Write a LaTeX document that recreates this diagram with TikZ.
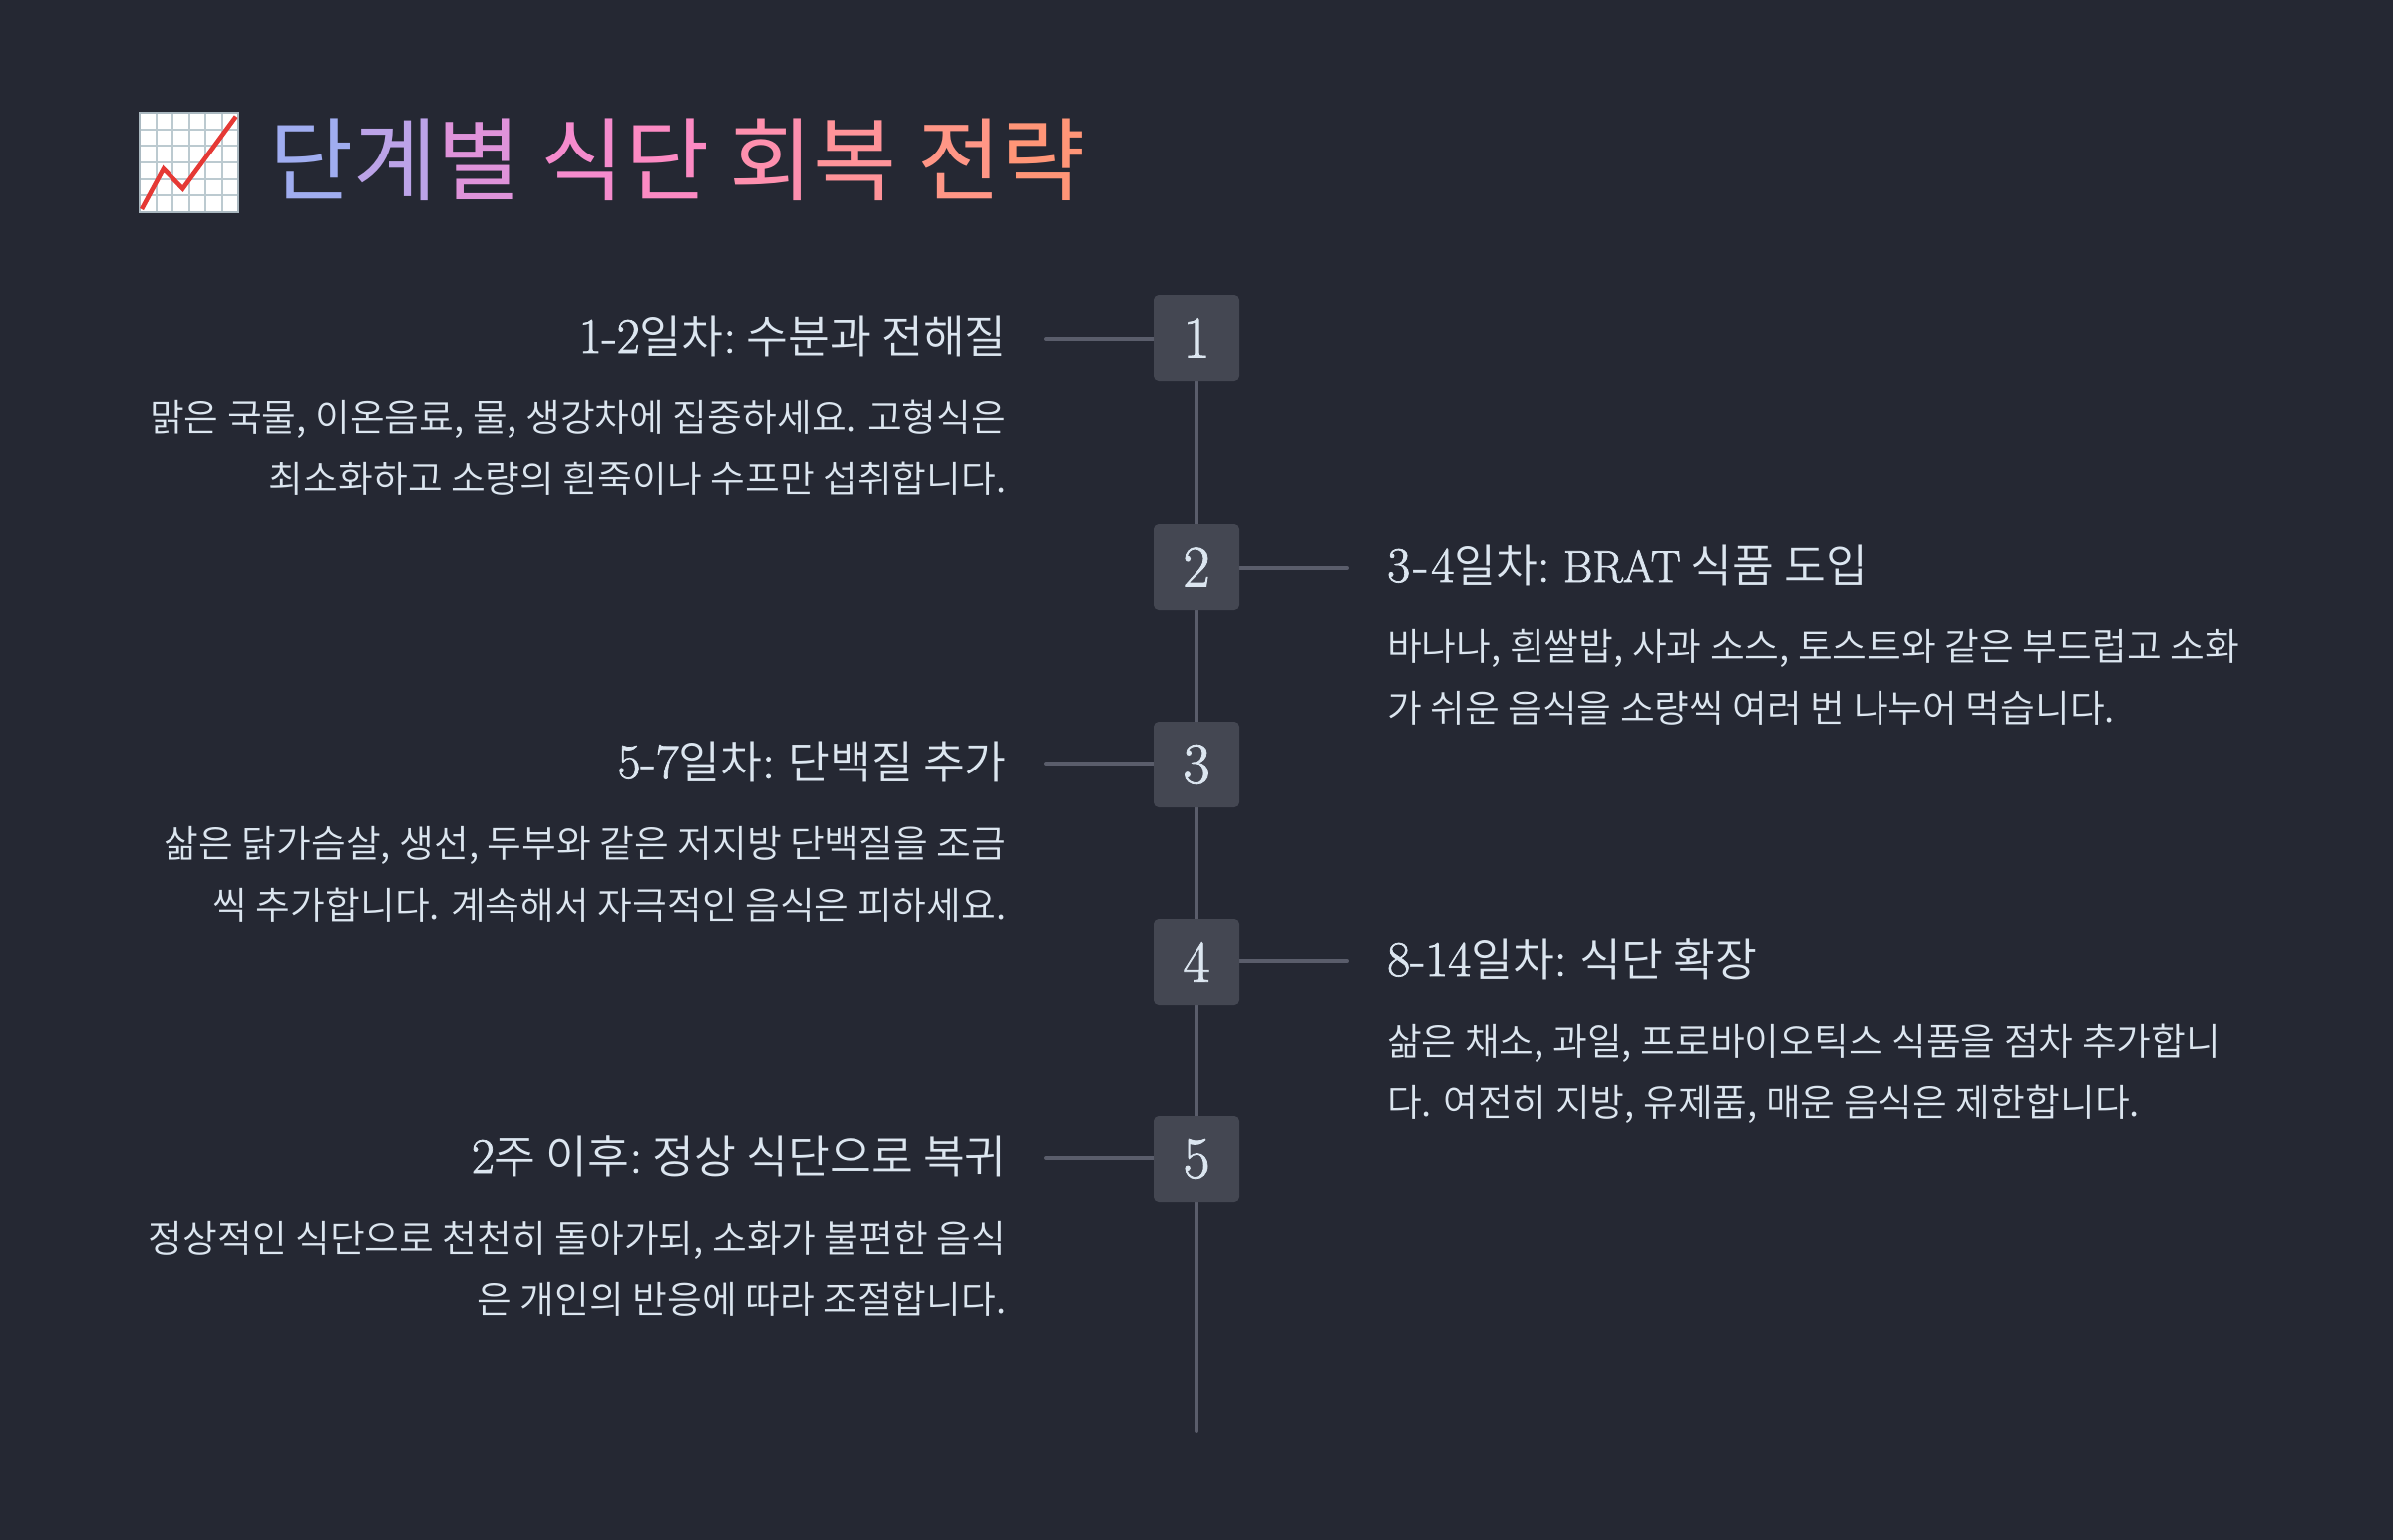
\documentclass[tikz,border=0pt]{standalone}
\usepackage{fontspec}
\newfontfamily\kr{Noto Sans CJK KR DemiLight}
\newfontfamily\krreg{Noto Sans CJK KR}
\definecolor{bgc}{HTML}{252833}
\definecolor{boxc}{HTML}{444752}
\definecolor{linec}{HTML}{5A5D6B}
\definecolor{txt}{HTML}{DCE6F0}
\definecolor{gridc}{HTML}{BCCAD0}
\definecolor{edgec}{HTML}{AAB8C0}
\definecolor{redc}{HTML}{E53935}
\definecolor{tA}{HTML}{A0ADF0}
\definecolor{tB}{HTML}{BCA3E8}
\definecolor{tC}{HTML}{DF93DA}
\definecolor{tD}{HTML}{F58BCD}
\definecolor{tE}{HTML}{FC8AC3}
\definecolor{tF}{HTML}{FE90AE}
\definecolor{tG}{HTML}{FF9399}
\definecolor{tH}{HTML}{FF9686}
\definecolor{tI}{HTML}{FF9577}
\newcommand\thickened[2]{\special{pdf:code q 2 Tr #1 w}#2\special{pdf:code Q}}
\newcommand\lm[1]{\thickened{0.7}{{\rmfamily\fontsize{50}{50}\selectfont #1}}}
\newcommand\lmcaps[1]{\thickened{0.7}{{\rmfamily\fontsize{45}{45}\selectfont #1}}}
\newcommand\boxdigit[1]{\thickened{0.8}{{\rmfamily\fontsize{59}{59}\selectfont #1}}}
\tikzset{
  x=1pt,y=-1pt,
  numbox/.style={rectangle,minimum size=86pt,inner sep=0pt,rounded corners=5pt,fill=boxc,text=txt},
  conn/.style={draw=linec,line width=4pt},
  stub/.style={conn,line cap=round},
  headL/.style={anchor=base east,inner sep=0pt,text=txt,font=\kr\fontsize{45.5}{45.5}\selectfont},
  headR/.style={anchor=base west,inner sep=0pt,text=txt,font=\kr\fontsize{45.5}{45.5}\selectfont},
  bodyL/.style={anchor=base east,inner sep=0pt,text=txt,font=\kr\fontsize{37.8}{37.8}\selectfont},
  bodyR/.style={anchor=base west,inner sep=0pt,text=txt,font=\kr\fontsize{37.8}{37.8}\selectfont},
  titlenode/.style={anchor=base west,inner sep=0pt,font=\krreg\fontsize{91.4}{91.4}\selectfont}
}
\begin{document}
\begin{tikzpicture}
\useasboundingbox (0,0) rectangle (2400,1544);
\fill[bgc] (-5,-5) rectangle (2405,1549);
% chart emoji
\fill[white] (140,113) rectangle (239,213);
\foreach \k in {1,...,5}{
  \draw[gridc,line width=2pt] (140+16.5*\k,113) -- (140+16.5*\k,213);
  \draw[gridc,line width=2pt] (140,113+16.67*\k) -- (239,113+16.67*\k);
}
\draw[edgec,line width=2pt] (140,113) rectangle (239,213);
\draw[redc,line width=4.5pt] (142,210) -- (164,169.5) -- (183.3,189.5) -- (236.7,116.7);
% title
\node[titlenode] (title) at (270,194) {\color{tA}단\color{tB}계\color{tC}별 \color{tD}식\color{tE}단 \color{tF}회\color{tG}복 \color{tH}전\color{tI}략};
% connector ends
\coordinate (s1) at (1049,340);
\coordinate (s2) at (1351,570);
\coordinate (s3) at (1049,766);
\coordinate (s4) at (1351,964);
\coordinate (s5) at (1049,1162);
\coordinate (lineend) at (1200,1436);
% boxes (outline reserved first so connectors can name them)
\path node[numbox,fill=none] (n1) at (1200,339) {}
      node[numbox,fill=none] (n2) at (1200,569) {}
      node[numbox,fill=none] (n3) at (1200,767) {}
      node[numbox,fill=none] (n4) at (1200,965) {}
      node[numbox,fill=none] (n5) at (1200,1163) {};
\draw[conn] (n1) -- (n2);
\draw[conn] (n2) -- (n3);
\draw[conn] (n3) -- (n4);
\draw[conn] (n4) -- (n5);
\draw[stub] (n5) -- (lineend);
\draw[stub] (s1) -- (n1.west |- s1);
\draw[stub] (s2) -- (n2.east |- s2);
\draw[stub] (s3) -- (n3.west |- s3);
\draw[stub] (s4) -- (n4.east |- s4);
\draw[stub] (s5) -- (n5.west |- s5);
\foreach \m in {1,...,5}{\node[numbox] (d\m) at (n\m) {\boxdigit{\m}};}
% item 1
\node[headL] (h1) at (1010,354) {\lm{1-2}일차\lm{:}\hspace{-3pt} 수분과 전해질};
\node[bodyL] (b1a) at (1009.5,432) {맑은 국물, 이온음료, 물, 생강차에 집중하세요. 고형식은};
\node[bodyL] (b1b) at (1009.5,494) {최소화하고 소량의 흰죽이나 수프만 섭취합니다.};
% item 2
\node[headR] (h2) at (1391,584) {\lm{3\kern3pt-\kern3pt4}일차\lm{:} \lmcaps{BRAT} 식품 도입};
\node[bodyR] (b2a) at (1391,662) {바나나, 흰쌀밥, 사과 소스, 토스트와 같은 부드럽고 소화};
\node[bodyR] (b2b) at (1391,724) {가 쉬운 음식을 소량씩 여러 번 나누어 먹습니다.};
% item 3
\node[headL] (h3) at (1010,781) {\lm{5-7}일차\lm{:} 단백질 추가};
\node[bodyL] (b3a) at (1009.5,860) {삶은 닭가슴살, 생선, 두부와 같은 저지방 단백질을 조금};
\node[bodyL] (b3b) at (1009.5,922) {씩 추가합니다. 계속해서 자극적인 음식은 피하세요.};
% item 4
\node[headR] (h4) at (1391,979) {\lm{8-14}일차\lm{:} 식단 확장};
\node[bodyR] (b4a) at (1391,1058.5) {삶은 채소, 과일, 프로바이오틱스 식품을 점차 추가합니};
\node[bodyR] (b4b) at (1391,1120.5) {다. 여전히 지방, 유제품, 매운 음식은 제한합니다.};
% item 5
\node[headL] (h5) at (1010,1177) {\lm{2}주 이후\lm{:}\hspace{-3pt} 정상 식단으로 복귀};
\node[bodyL] (b5a) at (1009.5,1256) {정상적인 식단으로 천천히 돌아가되, 소화가 불편한 음식};
\node[bodyL] (b5b) at (1009.5,1317) {은 개인의 반응에 따라 조절합니다.};
\end{tikzpicture}
\end{document}
